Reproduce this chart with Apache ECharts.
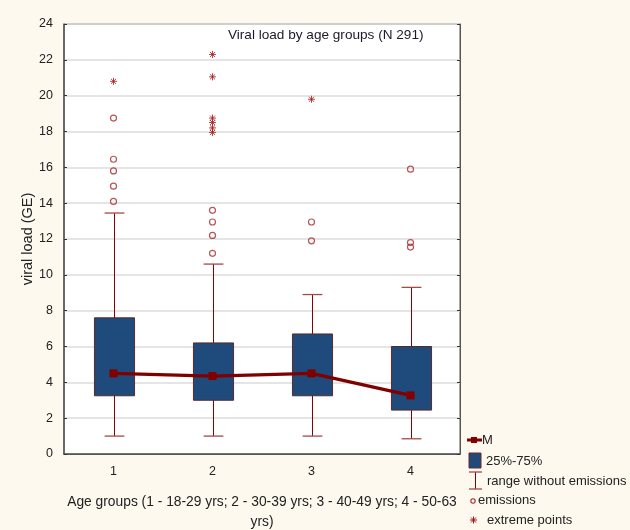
<!DOCTYPE html>
<html><head><meta charset="utf-8">
<script src="https://cdn.jsdelivr.net/npm/echarts@6/dist/echarts.min.js"></script>
<style>html,body{margin:0;padding:0;background:#fdf9ef}#c{width:630px;height:530px}</style>
</head><body><div id="c"></div>
<script>
const categories = ['1', '2', '3', '4'];
const whiskerMin = [1.0, 1.0, 1.0, 0.85];
const q1 = [3.25, 3.0, 3.25, 2.45];
const q3 = [7.6, 6.2, 6.7, 6.0];
const whiskerMax = [13.45, 10.6, 8.9, 9.3];
const means = [4.5, 4.35, 4.5, 3.27];
const emissions = [[0,18.75],[0,16.45],[0,15.8],[0,14.95],[0,14.1],[1,13.6],[1,12.95],[1,12.2],[1,11.2],[2,12.95],[2,11.9],[3,15.9],[3,11.8],[3,11.55]];
const extremes = [[0,20.8],[1,22.3],[1,21.05],[1,18.75],[1,18.5],[1,18.2],[1,17.95],[2,19.8]];
const yMin = 0, yMax = 24, yStep = 2;

const RED = '#8b0000';
const BLUE = '#1f4a7c';
const FONT = 'Liberation Sans, Arial, sans-serif';
const boxData = categories.map((c, i) => [i, whiskerMin[i], q1[i], q3[i], whiskerMax[i]]);
const star = 'path://M0,-5L0,5M-5,0L5,0M-3.6,-3.6L3.6,3.6M-3.6,3.6L3.6,-3.6';

function ltext(x, y, t) {
  return {type: 'text', x: x, y: y, style: {text: t, font: '13px ' + FONT, fill: '#222', verticalAlign: 'middle', align: 'left'}};
}
function lline(x1, y1, x2, y2, c, w) {
  return {type: 'line', shape: {x1: x1, y1: y1, x2: x2, y2: y2}, style: {stroke: c, lineWidth: w}};
}

const chart = echarts.init(document.getElementById('c'), null, {renderer: 'canvas'});
chart.setOption({
  backgroundColor: '#fdf9ef',
  animation: false,
  title: {text: 'Viral load by age groups (N 291)', left: 228, top: 28, padding: 0,
    textStyle: {fontFamily: FONT, fontSize: 13.6, fontWeight: 'normal', color: '#1a1a2a'}},
  grid: {left: 64, top: 24, right: 170, bottom: 76, show: true, backgroundColor: '#ffffff', borderColor: '#555', borderWidth: 1,
    outerBoundsMode: 'none', containLabel: false},
  xAxis: [{
    type: 'category', data: categories, boundaryGap: true, position: 'bottom',
    axisLine: {lineStyle: {color: '#555', width: 1.5}},
    axisTick: {alignWithLabel: true, inside: true, length: 3, lineStyle: {color: '#333'}},
    axisLabel: {margin: 11, fontFamily: FONT, fontSize: 12.5, color: '#222'},
    name: 'Age groups (1 - 18-29 yrs; 2 - 30-39 yrs; 3 - 40-49 yrs; 4 - 50-63\nyrs)',
    nameLocation: 'middle', nameGap: 38, nameMoveOverlap: false,
    nameTextStyle: {fontFamily: FONT, fontSize: 13.8, color: '#222', lineHeight: 20}
  }, {
    type: 'category', data: categories, boundaryGap: true, position: 'top',
    axisLine: {lineStyle: {color: '#555'}},
    axisTick: {alignWithLabel: true, inside: true, length: 3, lineStyle: {color: '#333'}},
    axisLabel: {show: false}
  }],
  yAxis: [{
    type: 'value', min: yMin, max: yMax, interval: yStep,
    axisLine: {show: true, lineStyle: {color: '#555', width: 1.5}},
    axisTick: {show: true, inside: true, length: 3, lineStyle: {color: '#333'}},
    axisLabel: {margin: 11, fontFamily: FONT, fontSize: 12.5, color: '#222'},
    splitLine: {show: true, lineStyle: {color: '#dcdcdc', width: 1.5}},
    name: 'viral load (GE)', nameLocation: 'middle', nameGap: 29, nameMoveOverlap: false,
    nameTextStyle: {fontFamily: FONT, fontSize: 14.5, color: '#222'}
  }, {
    type: 'value', min: yMin, max: yMax, interval: yStep, position: 'right',
    axisLine: {show: true, lineStyle: {color: '#555'}},
    axisTick: {show: true, inside: true, length: 3, lineStyle: {color: '#333'}},
    axisLabel: {show: false}, splitLine: {show: false}
  }],
  series: [{
    type: 'custom', name: 'box', data: boxData, z: 2,
    encode: {x: 0, y: [1, 2, 3, 4]},
    renderItem: function (params, api) {
      const x = api.value(0);
      const pMin = api.coord([x, api.value(1)]);
      const pQ1 = api.coord([x, api.value(2)]);
      const pQ3 = api.coord([x, api.value(3)]);
      const pMax = api.coord([x, api.value(4)]);
      const band = api.size([1, 0])[0];
      const bw = band * 0.405, cw = band * 0.2;
      const cx = Math.round(pMin[0]) + 0.5;
      return {type: 'group', children: [
        {type: 'line', shape: {x1: cx, y1: pMax[1], x2: cx, y2: pMin[1]}, style: {stroke: RED, lineWidth: 1}},
        {type: 'line', shape: {x1: cx - cw / 2, y1: pMax[1], x2: cx + cw / 2, y2: pMax[1]}, style: {stroke: '#a84848', lineWidth: 1.3}},
        {type: 'line', shape: {x1: cx - cw / 2, y1: pMin[1], x2: cx + cw / 2, y2: pMin[1]}, style: {stroke: '#a84848', lineWidth: 1.3}},
        {type: 'rect', shape: {x: cx - bw / 2, y: pQ3[1], width: bw, height: pQ1[1] - pQ3[1]}, style: {fill: BLUE, stroke: '#5a2a2a', lineWidth: 1}}
      ]};
    }
  }, {
    type: 'line', name: 'M', data: means, z: 5,
    symbol: 'rect', symbolSize: 8, showSymbol: true,
    lineStyle: {color: '#800000', width: 3.2}, itemStyle: {color: '#800000'}
  }, {
    type: 'scatter', name: 'emissions', data: emissions, z: 4,
    symbol: 'circle', symbolSize: 6,
    itemStyle: {color: 'rgba(255,255,255,0)', borderColor: '#a52a2a', borderWidth: 1.2}
  }, {
    type: 'scatter', name: 'extreme points', data: extremes, z: 4,
    symbol: star, symbolSize: 7,
    itemStyle: {color: 'rgba(255,255,255,0)', borderColor: '#a01818', borderWidth: 1}
  }],
  graphic: [
    lline(467, 440, 482, 440, '#800000', 3),
    {type: 'rect', shape: {x: 471, y: 437, width: 6, height: 6}, style: {fill: '#800000'}},
    ltext(482, 440, 'M'),
    {type: 'rect', shape: {x: 469, y: 453, width: 12, height: 15}, style: {fill: BLUE, stroke: '#6a2a2a', lineWidth: 1}},
    ltext(486, 461, '25%-75%'),
    lline(475.5, 472, 475.5, 489, RED, 1),
    lline(469, 472, 482, 472, '#a84848', 1.3),
    lline(469, 489, 482, 489, '#a84848', 1.3),
    ltext(487, 481, 'range without emissions'),
    {type: 'circle', shape: {cx: 473, cy: 501, r: 2.2}, style: {fill: 'none', stroke: '#a52a2a', lineWidth: 1.1}},
    ltext(478, 500, 'emissions'),
    lline(473.5, 516.5, 473.5, 523.5, '#a01818', 1),
    lline(470, 520, 477, 520, '#a01818', 1),
    lline(471, 517.5, 476, 522.5, '#a01818', 1),
    lline(471, 522.5, 476, 517.5, '#a01818', 1),
    ltext(487, 520, 'extreme points')
  ]
});
</script></body></html>
